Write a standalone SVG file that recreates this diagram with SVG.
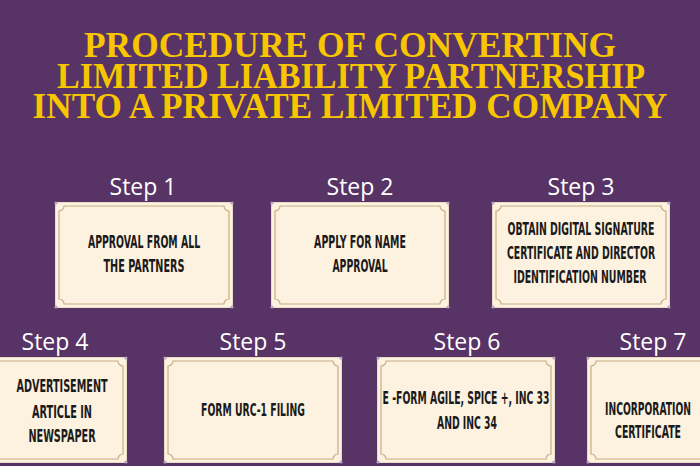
<svg xmlns="http://www.w3.org/2000/svg" xmlns:xlink="http://www.w3.org/1999/xlink" width="700" height="466" viewBox="0 0 700 466">
<style>
.title{font-family:"Liberation Serif","DejaVu Serif",serif;font-weight:bold;font-size:30px;fill:#F8C600;text-anchor:middle}
.step{font-family:"Open Sans","Noto Sans",sans-serif;font-size:23px;fill:#FFFFFF;text-anchor:middle}
.bt{font-family:"DejaVu Sans Condensed","Liberation Sans Narrow","Liberation Sans",sans-serif;font-weight:bold;font-size:17px;fill:#1A1A1A;text-anchor:middle}
.outer{fill:#FDF1DF;stroke:#E9DCC4;stroke-width:1}
.inner{fill:none;stroke:#C8AE86;stroke-width:1.2}
.dot{fill:#B8A1C2}
</style>
<defs>
<g id="frame">
<rect class="outer" x="0.5" y="0.5" width="177" height="105"/>
<path class="inner" d="M9,4 H169 A5 5 0 0 0 174,9 V97 A5 5 0 0 0 169,102 H9 A5 5 0 0 0 4,97 V9 A5 5 0 0 0 9,4 Z"/>
<circle class="dot" cx="1" cy="1" r="1.6"/>
<circle class="dot" cx="177" cy="1" r="1.6"/>
<circle class="dot" cx="1" cy="105" r="1.6"/>
<circle class="dot" cx="177" cy="105" r="1.6"/>
</g>
</defs>
<rect x="0" y="0" width="700" height="466" fill="#573366"/>
<g id="title">
<text class="title" transform="translate(350,57) scale(1,1.17)" textLength="532" lengthAdjust="spacingAndGlyphs">PROCEDURE OF CONVERTING</text>
<text class="title" transform="translate(351,88) scale(1,1.17)" textLength="588" lengthAdjust="spacingAndGlyphs">LIMITED LIABILITY PARTNERSHIP</text>
<text class="title" transform="translate(350,118) scale(1,1.17)" textLength="635" lengthAdjust="spacingAndGlyphs">INTO A PRIVATE LIMITED COMPANY</text>
</g>
<g id="connectors"></g>
<g id="step1">
<text class="step" x="143" y="195">Step 1</text>
<use xlink:href="#frame" x="55" y="202"/>
<text class="bt" transform="translate(144,248) scale(0.6,1)" textLength="187" lengthAdjust="spacingAndGlyphs">APPROVAL FROM ALL</text>
<text class="bt" transform="translate(144,272) scale(0.6,1)" textLength="135" lengthAdjust="spacingAndGlyphs">THE PARTNERS</text>
</g>
<g id="step2">
<text class="step" x="360" y="195">Step 2</text>
<use xlink:href="#frame" x="271" y="202"/>
<text class="bt" transform="translate(360,248) scale(0.6,1)" textLength="153" lengthAdjust="spacingAndGlyphs">APPLY FOR NAME</text>
<text class="bt" transform="translate(360,272) scale(0.6,1)" textLength="92" lengthAdjust="spacingAndGlyphs">APPROVAL</text>
</g>
<g id="step3">
<text class="step" x="581" y="195">Step 3</text>
<use xlink:href="#frame" x="492" y="202"/>
<text class="bt" transform="translate(581,235) scale(0.6,1)" textLength="245" lengthAdjust="spacingAndGlyphs">OBTAIN DIGITAL SIGNATURE</text>
<text class="bt" transform="translate(581,259) scale(0.6,1)" textLength="247" lengthAdjust="spacingAndGlyphs">CERTIFICATE AND DIRECTOR</text>
<text class="bt" transform="translate(580,283) scale(0.6,1)" textLength="222" lengthAdjust="spacingAndGlyphs">IDENTIFICATION NUMBER</text>
</g>
<g id="step4">
<text class="step" x="55" y="350">Step 4</text>
<use xlink:href="#frame" x="-51" y="357"/>
<text class="bt" transform="translate(62,392) scale(0.6,1)" textLength="152" lengthAdjust="spacingAndGlyphs">ADVERTISEMENT</text>
<text class="bt" transform="translate(62,418) scale(0.6,1)" textLength="100" lengthAdjust="spacingAndGlyphs">ARTICLE IN</text>
<text class="bt" transform="translate(62,442) scale(0.6,1)" textLength="112" lengthAdjust="spacingAndGlyphs">NEWSPAPER</text>
</g>
<g id="step5">
<text class="step" x="253" y="350">Step 5</text>
<use xlink:href="#frame" x="164" y="357"/>
<text class="bt" transform="translate(253,416) scale(0.6,1)" textLength="173" lengthAdjust="spacingAndGlyphs">FORM URC-1 FILING</text>
</g>
<g id="step6">
<text class="step" x="467" y="350">Step 6</text>
<use xlink:href="#frame" x="377" y="357"/>
<text class="bt" transform="translate(466,404) scale(0.6,1)" textLength="278" lengthAdjust="spacingAndGlyphs">E -FORM AGILE, SPICE +, INC 33</text>
<text class="bt" transform="translate(467,429) scale(0.6,1)" textLength="100" lengthAdjust="spacingAndGlyphs">AND INC 34</text>
</g>
<g id="step7">
<text class="step" x="653" y="350">Step 7</text>
<use xlink:href="#frame" x="587" y="357"/>
<text class="bt" transform="translate(648,415) scale(0.6,1)" textLength="143" lengthAdjust="spacingAndGlyphs">INCORPORATION</text>
<text class="bt" transform="translate(648,438) scale(0.6,1)" textLength="110" lengthAdjust="spacingAndGlyphs">CERTIFICATE</text>
</g>
</svg>
